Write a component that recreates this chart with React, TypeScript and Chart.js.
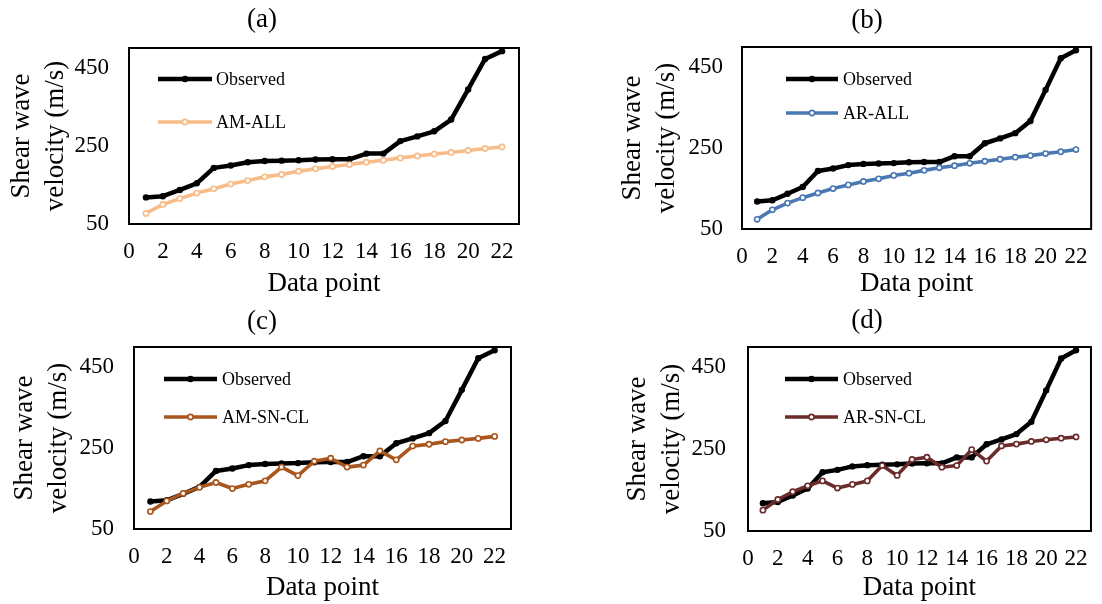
import React, { useEffect, useRef } from "react";
import { Chart, registerables } from "chart.js";

Chart.register(...registerables);

// ---- data ----
const dataPoints = [1, 2, 3, 4, 5, 6, 7, 8, 9, 10, 11, 12, 13, 14, 15, 16, 17, 18, 19, 20, 21, 22];
const xTicks = [0, 2, 4, 6, 8, 10, 12, 14, 16, 18, 20, 22];
const yTicks = [50, 250, 450];
const observed = [118, 121, 137, 154, 193.5, 199.5, 208, 211, 212, 213, 215, 215.5, 215.5, 230, 230, 262, 274, 287, 317, 394, 472, 492];
const amAll = [77, 100, 115, 129, 140, 152, 161, 170.5, 176.5, 185, 191, 197, 202, 208, 213, 219, 224, 229, 233, 238, 243, 247];
const arAll = [74, 97.5, 114, 127.5, 139, 150, 159, 167.5, 174, 182.5, 188, 195, 201.5, 206.5, 212.5, 217.5, 222.5, 227.5, 231.5, 236.5, 241, 246.5];
const amSnCl = [93, 119.5, 138, 153, 165, 150, 160.5, 169, 203, 182, 217.5, 225, 203, 208, 243, 221, 255, 259.5, 266, 270, 274, 279];
const arSnCl = [101, 127, 146, 160.5, 172.5, 155, 164, 172.5, 210, 186, 225, 230.5, 206, 210, 249, 221, 258, 262.5, 269, 273, 277, 280];
const panelTitles = ["(a)", "(b)", "(c)", "(d)"];
const modelNames = ["AM-ALL", "AR-ALL", "AM-SN-CL", "AR-SN-CL"];
const modelValues = [amAll, arAll, amSnCl, arSnCl];
const modelColors = ["#F8BC88", "#4A78B2", "#A9561E", "#6B2B2B"];
const yTitle = ["Shear wave", "velocity (m/s)"];
const xTitle = "Data point";

const FONT = '"Liberation Serif", "Times New Roman", serif';
const W = 551;
const H = 302;

type Layout = {
  left: number; top: number;
  L: number; R: number; T: number; B: number;
  titleX: number; titleY: number;
  legX1: number; legX2: number; legTextX: number; legY: number[];
  yTitlePad: number; yTickPad: number; xTickPad: number; xTitlePad: number;
};

const layouts: Layout[] = [
  { left: 0, top: 0, L: 129, R: 519, T: 48, B: 224, titleX: 262, titleY: 20,
    legX1: 158, legX2: 212, legTextX: 216, legY: [79, 122],
    yTitlePad: 4.7, yTickPad: 20, xTickPad: 14.2, xTitlePad: 1.8 },
  { left: 551, top: 0, L: 191, R: 543, T: 47, B: 229, titleX: 316, titleY: 21,
    legX1: 235, legX2: 287, legTextX: 292, legY: [79, 113],
    yTitlePad: 65, yTickPad: 19, xTickPad: 14.2, xTitlePad: 1.8 },
  { left: 0, top: 302, L: 134, R: 511, T: 45, B: 227, titleX: 262, titleY: 20,
    legX1: 164, legX2: 217, legTextX: 222, legY: [77, 115],
    yTitlePad: 7.5, yTickPad: 20, xTickPad: 14.2, xTitlePad: 0 },
  { left: 551, top: 302, L: 197, R: 546, T: 45, B: 229, titleX: 316, titleY: 19,
    legX1: 234, legX2: 287, legTextX: 292, legY: [77, 115],
    yTitlePad: 70, yTickPad: 22, xTickPad: 14.2, xTitlePad: 0 },
];

function Panel({ idx }: { idx: number }) {
  const ref = useRef<HTMLCanvasElement | null>(null);
  useEffect(() => {
    const lay = layouts[idx];
    const color = modelColors[idx];
    const legendItems = [
      { label: "Observed", color: "#000000", lw: 4.5, filled: true },
      { label: modelNames[idx], color, lw: 3.6, filled: false },
    ];
    const decor = {
      id: "decor" + idx,
      afterDraw(chart: any) {
        const ctx = chart.ctx as CanvasRenderingContext2D;
        const a = chart.chartArea;
        ctx.save();
        ctx.strokeStyle = "#000";
        ctx.lineWidth = 2;
        ctx.strokeRect(a.left, a.top, a.right - a.left, a.bottom - a.top);
        ctx.fillStyle = "#000";
        ctx.font = `27px ${FONT}`;
        ctx.textAlign = "center";
        ctx.textBaseline = "middle";
        ctx.fillText(panelTitles[idx], lay.titleX, lay.titleY);
        legendItems.forEach((it, i) => {
          const y = lay.legY[i];
          ctx.strokeStyle = it.color;
          ctx.lineWidth = it.lw;
          ctx.lineCap = "butt";
          ctx.beginPath();
          ctx.moveTo(lay.legX1, y);
          ctx.lineTo(lay.legX2, y);
          ctx.stroke();
          const mx = (lay.legX1 + lay.legX2) / 2;
          ctx.beginPath();
          if (it.filled) {
            ctx.fillStyle = it.color;
            ctx.arc(mx, y, 3.2, 0, Math.PI * 2);
            ctx.fill();
          } else {
            ctx.fillStyle = "#fff";
            ctx.lineWidth = 1.6;
            ctx.arc(mx, y, 2.6, 0, Math.PI * 2);
            ctx.fill();
            ctx.stroke();
          }
          ctx.fillStyle = "#000";
          ctx.font = `18px ${FONT}`;
          ctx.textAlign = "left";
          ctx.textBaseline = "middle";
          ctx.fillText(it.label, lay.legTextX, y + 1);
        });
        ctx.restore();
      },
    };
    const chart = new Chart(ref.current as HTMLCanvasElement, {
      type: "line",
      data: {
        datasets: [
          {
            label: "Observed",
            data: dataPoints.map((x, i) => ({ x, y: observed[i] })),
            borderColor: "#000",
            backgroundColor: "#000",
            borderWidth: 4.5,
            pointRadius: 3.2,
            pointBorderWidth: 0,
            pointBackgroundColor: "#000",
            borderJoinStyle: "round",
            borderCapStyle: "round",
            order: 1,
          },
          {
            label: modelNames[idx],
            data: dataPoints.map((x, i) => ({ x, y: modelValues[idx][i] })),
            borderColor: color,
            backgroundColor: "#fff",
            borderWidth: 3.6,
            pointRadius: 2.6,
            pointBorderWidth: 1.6,
            pointBorderColor: color,
            pointBackgroundColor: "#fff",
            borderJoinStyle: "round",
            borderCapStyle: "round",
            order: 0,
          },
        ],
      },
      options: {
        responsive: false,
        animation: false,
        devicePixelRatio: 1,
        layout: { padding: { top: lay.T, right: W - lay.R, bottom: 0, left: 0 } },
        plugins: { legend: { display: false }, tooltip: { enabled: false }, title: { display: false } },
        scales: {
          x: {
            type: "linear",
            min: 0,
            max: 23,
            grid: { display: false, drawTicks: false },
            border: { display: false },
            afterBuildTicks: (s: any) => { s.ticks = xTicks.map((v) => ({ value: v })); },
            afterFit: (s: any) => { s.height = H - lay.B; },
            ticks: { color: "#000", font: { family: FONT, size: 23 }, padding: lay.xTickPad, maxRotation: 0, autoSkip: false },
            title: { display: true, text: xTitle, color: "#000", font: { family: FONT, size: 27, lineHeight: 1.2 }, padding: { top: 0, bottom: lay.xTitlePad } },
          },
          y: {
            type: "linear",
            min: 50,
            max: 500,
            grid: { display: false, drawTicks: false },
            border: { display: false },
            afterBuildTicks: (s: any) => { s.ticks = yTicks.map((v) => ({ value: v })); },
            afterFit: (s: any) => { s.width = lay.L; },
            ticks: { color: "#000", font: { family: FONT, size: 23 }, padding: lay.yTickPad },
            title: { display: true, text: yTitle, color: "#000", font: { family: FONT, size: 27, lineHeight: 1.26 }, padding: { top: lay.yTitlePad, bottom: 0 } },
          },
        },
      },
      plugins: [decor],
    } as any);
    return () => chart.destroy();
  }, [idx]);
  const lay = layouts[idx];
  return (
    <div style={{ position: "absolute", left: lay.left, top: lay.top, width: W, height: H }}>
      <canvas ref={ref} width={W} height={H} style={{ display: "block", width: W, height: H }} />
    </div>
  );
}

export default function App() {
  return (
    <div style={{ position: "absolute", left: 0, top: 0, width: 1102, height: 604, background: "#fff", overflow: "hidden" }}>
      {[0, 1, 2, 3].map((i) => (
        <Panel key={i} idx={i} />
      ))}
    </div>
  );
}
